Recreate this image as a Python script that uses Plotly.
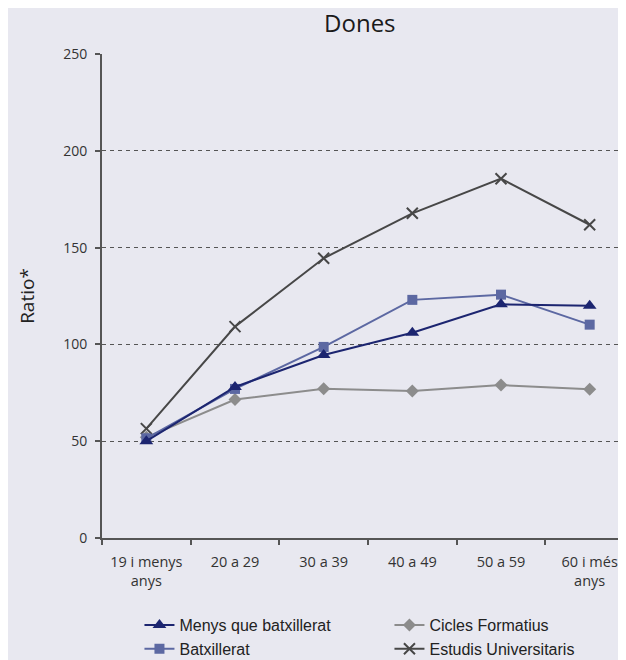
import plotly.graph_objects as go

grups_edat = ["19 i menys<br>anys", "20 a 29", "30 a 39", "40 a 49", "50 a 59", "60 i més<br>anys"]

menys_batx = [50, 78, 94.5, 106, 120.7, 120]
batxillerat = [51.5, 77, 98.7, 123, 125.7, 110.2]
cicles = [52, 71.5, 77.1, 75.9, 79, 76.8]
universitaris = [56.5, 109.2, 144.5, 167.7, 185.6, 161.8]

bg = "#e8e8f0"

fig = go.Figure()

# legend fills row by row, so legendrank puts the four series in two columns
fig.add_trace(go.Scatter(x=grups_edat, y=cicles, name="Cicles Formatius", mode="lines+markers",
                         line=dict(color="#8c8c8c", width=2),
                         marker=dict(symbol="diamond", size=10, color="#8c8c8c"), legendrank=2))
fig.add_trace(go.Scatter(x=grups_edat, y=universitaris, name="Estudis Universitaris", mode="lines+markers",
                         line=dict(color="#474747", width=2),
                         marker=dict(symbol="x-thin", size=11, line=dict(color="#474747", width=2)), legendrank=4))
fig.add_trace(go.Scatter(x=grups_edat, y=batxillerat, name="Batxillerat", mode="lines+markers",
                         line=dict(color="#5c68a2", width=2),
                         marker=dict(symbol="square", size=10, color="#5c68a2"), legendrank=3))
fig.add_trace(go.Scatter(x=grups_edat, y=menys_batx, name="Menys que batxillerat", mode="lines+markers",
                         line=dict(color="#1c2570", width=2),
                         marker=dict(symbol="triangle-up", size=12, color="#1c2570"), legendrank=1))

# the page body adds 8px on top and left, margins are shifted for that
fig.update_layout(
    width=626, height=660,
    paper_bgcolor=bg, plot_bgcolor=bg,
    margin=dict(l=94, r=0, t=46, b=130),
    font=dict(family="Open Sans", size=14, color="#333333"),
    title=dict(text="Dones", xref="container", x=0.562, xanchor="center", y=0.976, yanchor="middle",
               font=dict(family="Open Sans", size=24, color="#1a1a1a")),
    legend=dict(orientation="h", xref="container", yref="container", x=0.21, y=0.003, yanchor="bottom",
                entrywidth=205, entrywidthmode="pixels", traceorder="normal",
                font=dict(family="Liberation Sans", size=16, color="#222222"),
                itemwidth=30, tracegroupgap=0),
    showlegend=True,
)

fig.update_xaxes(type="category", range=[-0.5, 5.5], showline=True, linecolor="#555555", linewidth=2,
                 ticks="outside", tickson="boundaries", ticklen=5, tickwidth=2, tickcolor="#555555",
                 showgrid=False, tickfont=dict(size=14.5, color="#333333"), automargin=False,
                 ticklabelstandoff=10)
fig.update_yaxes(range=[0, 250], dtick=50, showline=True, linecolor="#555555", linewidth=2,
                 ticks="outside", ticklen=5, tickwidth=2, tickcolor="#555555",
                 showgrid=True, gridcolor="#555555", gridwidth=1, griddash="4px,4px",
                 zeroline=False, title=dict(text="Ratio*", font=dict(size=19, color="#222222"), standoff=24),
                 tickfont=dict(size=14, color="#333333"), automargin=False, ticklabelstandoff=5)

fig.write_html("out.html")
